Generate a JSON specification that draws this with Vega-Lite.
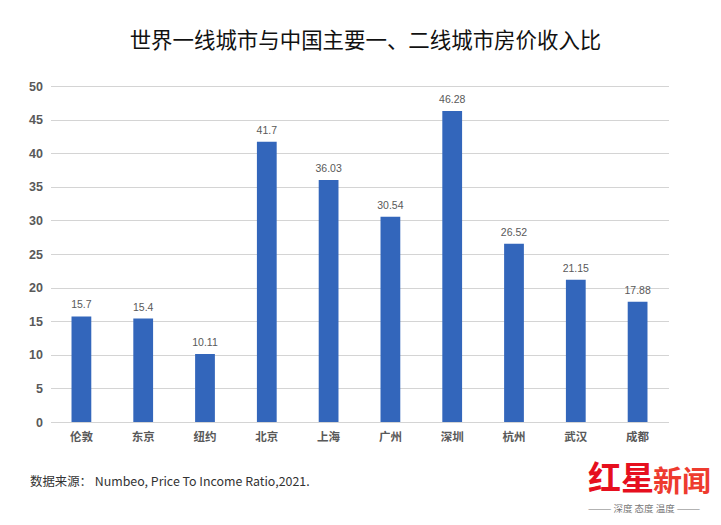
{
  "$schema": "https://vega.github.io/schema/vega-lite/v6.json",
  "width": 618,
  "height": 336,
  "autosize": "none",
  "padding": {"left": 50.5, "top": 86, "right": 52.5, "bottom": 103},
  "background": "white",
  "title": {
    "text": "世界一线城市与中国主要一、二线城市房价收入比",
    "font": "Noto Sans CJK SC",
    "fontSize": 21.45,
    "fontWeight": "normal",
    "color": "#111111",
    "anchor": "middle",
    "dx": 6,
    "offset": 28
  },
  "data": {
    "values": [
      {"city": "伦敦", "ratio": 15.7, "label": "15.7"},
      {"city": "东京", "ratio": 15.4, "label": "15.4"},
      {"city": "纽约", "ratio": 10.11, "label": "10.11"},
      {"city": "北京", "ratio": 41.7, "label": "41.7"},
      {"city": "上海", "ratio": 36.03, "label": "36.03"},
      {"city": "广州", "ratio": 30.54, "label": "30.54"},
      {"city": "深圳", "ratio": 46.28, "label": "46.28"},
      {"city": "杭州", "ratio": 26.52, "label": "26.52"},
      {"city": "武汉", "ratio": 21.15, "label": "21.15"},
      {"city": "成都", "ratio": 17.88, "label": "17.88"}
    ]
  },
  "encoding": {
    "y": {
      "field": "ratio",
      "type": "quantitative",
      "scale": {"domain": [0, 50]},
      "axis": {
        "title": null,
        "values": [0, 5, 10, 15, 20, 25, 30, 35, 40, 45, 50],
        "domain": false,
        "ticks": false,
        "gridColor": "#d4d4d4",
        "labelFont": "Liberation Sans",
        "labelFontSize": 12.5,
        "labelFontWeight": "bold",
        "labelColor": "#595959",
        "labelPadding": 8
      }
    }
  },
  "layer": [
    {
      "mark": {"type": "bar", "color": "#3366bb"},
      "encoding": {
        "x": {
          "field": "city",
          "type": "nominal",
          "sort": null,
          "scale": {"paddingInner": 0.68, "paddingOuter": 0.34},
          "axis": {
            "orient": "bottom",
            "title": "数据来源： Numbeo, Price To Income Ratio,2021.",
            "titleFont": "Noto Sans CJK SC",
            "titleFontSize": 12.4,
            "titleFontWeight": "normal",
            "titleColor": "#333333",
            "titleAlign": "left",
            "titleBaseline": "middle",
            "titleX": -21,
            "titleY": 59,
            "labelAngle": 0,
            "labelFont": "Noto Sans CJK SC",
            "labelFontSize": 11.5,
            "labelFontWeight": "bold",
            "labelColor": "#595959",
            "labelPadding": 9,
            "ticks": false,
            "domainColor": "#d4d4d4"
          }
        }
      }
    },
    {
      "mark": {"type": "text", "dy": -11, "font": "Liberation Sans", "fontSize": 10.5, "color": "#595959"},
      "encoding": {
        "x": {
          "field": "city",
          "type": "nominal",
          "sort": null,
          "scale": {"paddingInner": 0.68, "paddingOuter": 0.34},
          "axis": null
        },
        "text": {"field": "label"}
      }
    },
    {
      "mark": {"type": "bar", "opacity": 0},
      "encoding": {
        "x": {
          "field": "city",
          "type": "nominal",
          "sort": null,
          "axis": {
            "orient": "bottom",
            "title": "红星",
            "titleFont": "Noto Sans CJK SC",
            "titleFontSize": 33,
            "titleFontWeight": "bold",
            "titleColor": "#e60f1e",
            "titleAlign": "left",
            "titleBaseline": "middle",
            "titleX": 537,
            "titleY": 57,
            "labels": false,
            "ticks": false,
            "domain": false
          }
        }
      }
    },
    {
      "mark": {"type": "bar", "opacity": 0},
      "encoding": {
        "x": {
          "field": "city",
          "type": "nominal",
          "sort": null,
          "axis": {
            "orient": "bottom",
            "title": "新闻",
            "titleFont": "Noto Sans CJK SC",
            "titleFontSize": 29,
            "titleFontWeight": "bold",
            "titleColor": "#ee3b2e",
            "titleAlign": "left",
            "titleBaseline": "middle",
            "titleX": 602,
            "titleY": 60,
            "labels": false,
            "ticks": false,
            "domain": false
          }
        }
      }
    },
    {
      "mark": {"type": "bar", "opacity": 0},
      "encoding": {
        "x": {
          "field": "city",
          "type": "nominal",
          "sort": null,
          "axis": {
            "orient": "bottom",
            "title": "——— 深度 态度 温度 ———",
            "titleFont": "Noto Sans CJK SC",
            "titleFontSize": 9.5,
            "titleFontWeight": "normal",
            "titleColor": "#777777",
            "titleAlign": "left",
            "titleBaseline": "middle",
            "titleX": 537,
            "titleY": 86,
            "labels": false,
            "ticks": false,
            "domain": false
          }
        }
      }
    }
  ],
  "resolve": {"scale": {"x": "independent"}},
  "config": {"view": {"stroke": null}}
}
